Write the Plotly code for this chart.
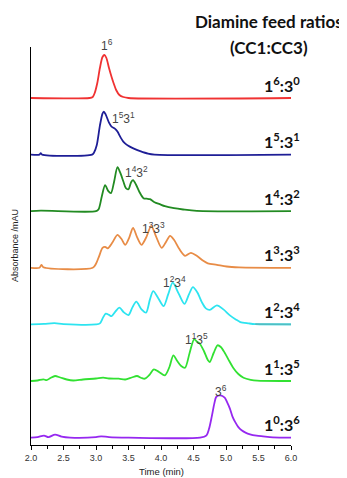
import plotly.graph_objects as go

# ---- data (time in min, absorbance in arbitrary mAU units) ----
t_r = [2.0, 2.9, 2.95, 2.98, 3.02, 3.06, 3.10, 3.13, 3.16, 3.20, 3.24, 3.27, 3.31, 3.36, 3.42, 3.5, 6.0]
a_r = [0, 0, 1, 5, 15, 30, 41, 43, 40, 30, 21, 15, 8, 3, 1, 0, 0]

t_b = [2.0, 2.13, 2.15, 2.17, 2.94, 2.97, 3.01, 3.06, 3.10, 3.12, 3.15, 3.20, 3.24, 3.29, 3.33,
       3.38, 3.42, 3.47, 3.52, 3.60, 3.68, 3.80, 3.9, 6.0]
a_b = [0, 0, 1.5, 0, 0, 2, 9, 29, 41, 43, 40, 32, 28, 26, 23, 17, 13, 10, 8, 5.5, 3.5, 1, 0, 0]

t_g = [2.0, 2.15, 3.0, 3.04, 3.09, 3.14, 3.19, 3.23, 3.28, 3.33, 3.37, 3.42, 3.46, 3.50, 3.54,
       3.57, 3.62, 3.67, 3.73, 3.78, 3.83, 3.90, 3.98, 4.06, 4.20, 4.34, 4.55, 6.0]
a_g = [0, 0.5, 0, 2, 15, 26, 20, 18, 30, 44, 39, 30, 23, 22, 29, 31, 26, 19, 13, 12.5, 12, 9, 7,
       5, 3, 1.7, 0.3, 0]

t_o = [2.0, 2.13, 2.16, 2.19, 2.95, 3.0, 3.05, 3.10, 3.14, 3.18, 3.25, 3.33, 3.39, 3.45, 3.51,
       3.57, 3.63, 3.70, 3.77, 3.85, 3.92, 4.01, 4.07, 4.14, 4.20, 4.28, 4.37, 4.46, 4.55, 4.65,
       4.72, 4.86, 5.01, 5.2, 6.0]
a_o = [0, 0, 3, 0.5, 0, 4, 12, 20, 21, 19.5, 25, 33, 29, 23, 30, 40, 31, 23, 30, 42, 32, 20, 25,
       32, 28, 19, 12, 15, 12, 7, 4.5, 3, 1.3, 0.5, 0]

t_c = [2.0, 2.2, 2.36, 2.5, 3.0, 3.06, 3.11, 3.15, 3.20, 3.24, 3.30, 3.36, 3.43, 3.50, 3.56,
       3.62, 3.70, 3.77, 3.83, 3.88, 3.96, 4.04, 4.11, 4.18, 4.27, 4.36, 4.43, 4.49, 4.56, 4.63,
       4.69, 4.75, 4.86, 4.96, 5.06, 5.15, 5.22, 5.35, 5.45, 6.0]
a_c = [0, 0.5, 1.2, 0.3, 0, 1, 7, 10.7, 9.5, 8.3, 13, 16.7, 12, 9.3, 17, 22.7, 15, 11.7, 25,
       33.3, 26, 18.3, 30, 41.7, 31, 20.5, 30, 37.3, 32, 22, 16, 14.5, 19, 15, 9, 5, 2.3, 1,
       0.3, 0]

t_l = [2.0, 2.1, 2.19, 2.24, 2.30, 2.37, 2.45, 2.55, 2.65, 2.8, 3.0, 3.11, 3.2, 3.35, 3.45,
       3.55, 3.63, 3.70, 3.75, 3.82, 3.89, 3.97, 4.06, 4.13, 4.19, 4.25, 4.31, 4.37, 4.44, 4.51,
       4.56, 4.60, 4.66, 4.72, 4.75, 4.81, 4.87, 4.92, 4.98, 5.05, 5.11, 5.19, 5.27, 5.38, 5.48, 6.0]
a_l = [0, 0.5, 1.7, 0.8, 3, 5, 3.5, 1.5, 0.5, 1.5, 2.5, 3.3, 2.5, 2.3, 1.5, 3.5, 5, 3, 2.3, 6,
       11.7, 9, 5.7, 14, 25.7, 20, 15, 13.3, 28, 41.7, 39, 37, 30, 21, 19, 28, 35.7, 34, 28.3,
       20, 13.3, 7, 3.3, 1.2, 0.3, 0]

t_p = [2.0, 2.1, 2.2, 2.27, 2.37, 2.47, 2.6, 3.0, 3.08, 3.2, 3.5, 4.6, 4.70, 4.74, 4.78, 4.82,
       4.85, 4.91, 4.98, 5.02, 5.06, 5.10, 5.14, 5.19, 5.24, 5.30, 5.37, 5.47, 5.57, 5.72, 6.0]
a_p = [0, 0.5, 2, 0.5, 3, 1, 0, 0.5, 1.3, 0.5, 0, 0, 2.3, 9, 20.7, 34, 40.7, 42.3, 40, 35, 29,
       21, 15.7, 10.5, 7.3, 5, 3.3, 2, 1.3, 0.3, 0]

ratio_labels = ["1<sup>6</sup>:3<sup>0</sup>", "1<sup>5</sup>:3<sup>1</sup>",
                "1<sup>4</sup>:3<sup>2</sup>", "1<sup>3</sup>:3<sup>3</sup>",
                "1<sup>2</sup>:3<sup>4</sup>", "1<sup>1</sup>:3<sup>5</sup>",
                "1<sup>0</sup>:3<sup>6</sup>"]
peak_labels = ["1<sup>6</sup>", "1<sup>5</sup>3<sup>1</sup>", "1<sup>4</sup>3<sup>2</sup>",
               "1<sup>3</sup>3<sup>3</sup>", "1<sup>2</sup>3<sup>4</sup>",
               "1<sup>1</sup>3<sup>5</sup>", "3<sup>6</sup>"]
peak_label_t = [3.17, 3.43, 3.63, 3.88, 4.20, 4.55, 4.93]

# ---- styling / layout ----
series = [(t_r, a_r, "rgb(240,50,50)"), (t_b, a_b, "rgb(30,30,150)"),
          (t_g, a_g, "rgb(34,139,34)"), (t_o, a_o, "rgb(232,140,70)"),
          (t_c, a_c, "rgb(45,228,240)"), (t_l, a_l, "rgb(50,225,50)"),
          (t_p, a_p, "rgb(150,40,240)")]
n = len(series)
step = 56.6
base0 = 7.4
offsets = [base0 + step * (n - 1 - k) for k in range(n)]
label_dy = [53, 37, 39, 40, 42, 42, 47]
Y_MAX = 398.0

fig = go.Figure()
for k, (t, a, col) in enumerate(series):
    fig.add_trace(go.Scatter(x=t, y=[v + offsets[k] for v in a], mode="lines",
                             line=dict(color=col, width=1.8, shape="spline", smoothing=0.8),
                             hoverinfo="skip"))
# teal tail of the cyan trace
tail = [i for i, v in enumerate(t_c) if v >= 5.45]
fig.add_trace(go.Scatter(x=[t_c[i] for i in tail], y=[a_c[i] + offsets[4] for i in tail],
                         mode="lines", line=dict(color="rgb(80,190,195)", width=1.8),
                         hoverinfo="skip"))

ann = []
for k in range(n):
    ann.append(dict(x=5.55, y=(offsets[k] + 14) / Y_MAX, xref="x", yref="paper",
                    text="<b>" + ratio_labels[k] + "</b>",
                    showarrow=False, xanchor="left", yanchor="middle",
                    font=dict(family="Lato", size=16, color="#111")))
    ann.append(dict(x=peak_label_t[k], y=(offsets[k] + label_dy[k]) / Y_MAX, xref="x",
                    yref="paper", text=peak_labels[k], showarrow=False, xanchor="center",
                    yanchor="middle",
                    font=dict(family="Liberation Sans", size=12, color="#444")))

ann.append(dict(x=(269 - 31) / 260, y=(445 - 21) / 398, xref="paper", yref="paper",
                text="<b>Diamine feed ratios</b>", showarrow=False, xanchor="center",
                yanchor="middle", font=dict(family="Lato", size=17, color="#111")))
ann.append(dict(x=(269 - 31) / 260, y=(445 - 47) / 398, xref="paper", yref="paper",
                text="<b>(CC1:CC3)</b>", showarrow=False, xanchor="center",
                yanchor="middle", font=dict(family="Lato", size=17, color="#111")))
ann.append(dict(x=(15 - 31) / 260, y=0.5, xref="paper", yref="paper",
                text="Absorbance /mAU", textangle=-90, showarrow=False,
                xanchor="center", yanchor="middle",
                font=dict(family="Liberation Sans", size=9, color="#222")))
ann.append(dict(x=0.5, y=(445 - 471) / 398, xref="paper", yref="paper",
                text="Time (min)", showarrow=False, xanchor="center", yanchor="middle",
                font=dict(family="Liberation Sans", size=9.5, color="#222")))

# page body has an 8px margin, so the figure is sized/offset to compensate
fig.update_layout(
    width=339, height=470,
    margin=dict(l=23, r=56, t=39, b=33),
    plot_bgcolor="white", paper_bgcolor="white",
    showlegend=False, annotations=ann,
    xaxis=dict(range=[2, 6], tick0=2, dtick=0.5, tickformat=".1f", ticks="outside",
               ticklen=4, tickcolor="black", showline=True, linecolor="black", linewidth=1,
               showgrid=False, zeroline=False,
               tickfont=dict(family="Liberation Sans", size=9, color="#333"),
               minor=dict(dtick=0.25, ticks="outside", ticklen=3, tickcolor="black",
                          showgrid=False)),
    yaxis=dict(range=[0, Y_MAX], showline=True, linecolor="black", linewidth=1.3,
               showticklabels=False, ticks="", showgrid=False, zeroline=False),
)

fig.write_html("out.html")
